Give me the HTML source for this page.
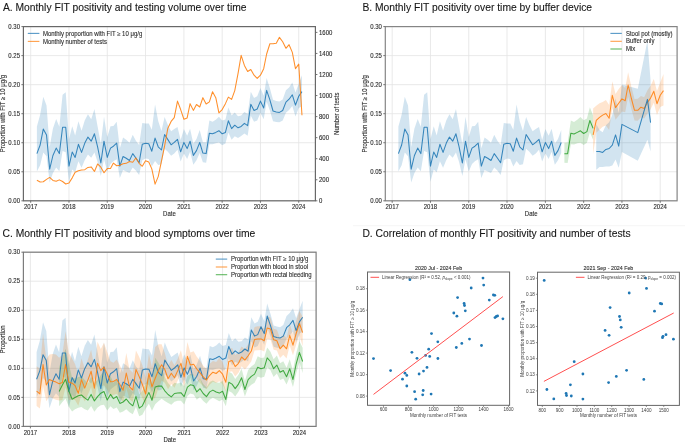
<!DOCTYPE html>
<html><head><meta charset="utf-8"><style>
html,body{margin:0;padding:0;background:#fff;width:685px;height:443px;overflow:hidden}
svg{display:block;will-change:transform}
text{font-family:"Liberation Sans", sans-serif;stroke:#3a3a3a;stroke-width:0.12px}
.ttl{stroke:#161616;stroke-width:0.1px;fill:#161616}
.dd{stroke:none;fill:#3c3c3c}
</style></head><body>
<svg width="685" height="443" viewBox="0 0 685 443" font-family='"Liberation Sans", sans-serif'>
<rect width="685" height="443" fill="#ffffff"/>
<line x1="353" y1="225.7" x2="685" y2="225.7" stroke="#f2f2f2" stroke-width="0.8"/>
<text x="2.9" y="10.7" font-size="10.3" text-anchor="start" fill="#2a2a2a" class="ttl">A. Monthly FIT positivity and testing volume over time</text>
<text x="362.4" y="10.7" font-size="10.3" text-anchor="start" fill="#2a2a2a" class="ttl">B. Monthly FIT positivity over time by buffer device</text>
<text x="2.5" y="237.4" font-size="10.3" text-anchor="start" fill="#2a2a2a" class="ttl">C. Monthly FIT positivity and blood symptoms over time</text>
<text x="362.4" y="237.4" font-size="10.3" text-anchor="start" fill="#2a2a2a" class="ttl">D. Correlation of monthly FIT positivity and number of tests</text>
<line x1="30.7" y1="26.6" x2="30.7" y2="200.8" stroke="#e3e3e3" stroke-width="0.8"/>
<line x1="68.97" y1="26.6" x2="68.97" y2="200.8" stroke="#e3e3e3" stroke-width="0.8"/>
<line x1="107.25" y1="26.6" x2="107.25" y2="200.8" stroke="#e3e3e3" stroke-width="0.8"/>
<line x1="145.52" y1="26.6" x2="145.52" y2="200.8" stroke="#e3e3e3" stroke-width="0.8"/>
<line x1="183.9" y1="26.6" x2="183.9" y2="200.8" stroke="#e3e3e3" stroke-width="0.8"/>
<line x1="222.17" y1="26.6" x2="222.17" y2="200.8" stroke="#e3e3e3" stroke-width="0.8"/>
<line x1="260.45" y1="26.6" x2="260.45" y2="200.8" stroke="#e3e3e3" stroke-width="0.8"/>
<line x1="298.72" y1="26.6" x2="298.72" y2="200.8" stroke="#e3e3e3" stroke-width="0.8"/>
<line x1="23.4" y1="200.8" x2="315.4" y2="200.8" stroke="#e3e3e3" stroke-width="0.8"/>
<line x1="23.4" y1="171.77" x2="315.4" y2="171.77" stroke="#e3e3e3" stroke-width="0.8"/>
<line x1="23.4" y1="142.73" x2="315.4" y2="142.73" stroke="#e3e3e3" stroke-width="0.8"/>
<line x1="23.4" y1="113.7" x2="315.4" y2="113.7" stroke="#e3e3e3" stroke-width="0.8"/>
<line x1="23.4" y1="84.66" x2="315.4" y2="84.66" stroke="#e3e3e3" stroke-width="0.8"/>
<line x1="23.4" y1="55.62" x2="315.4" y2="55.62" stroke="#e3e3e3" stroke-width="0.8"/>
<line x1="23.4" y1="26.59" x2="315.4" y2="26.59" stroke="#e3e3e3" stroke-width="0.8"/>
<polygon points="36.89,126.43 40.14,114.78 43.28,96.64 46.53,105.4 49.68,147.06 52.93,128.52 56.18,118.99 59.33,126.68 62.58,94.8 65.72,92.22 68.97,139.13 72.22,126.21 75.16,135.57 78.41,121.15 81.56,130.74 84.81,120.23 87.95,114.34 91.2,119.15 94.45,108.93 97.6,126.48 100.85,144.08 104,116.63 107.25,137.06 110.5,126.35 113.43,126.06 116.68,121.71 119.83,148.32 123.08,137.61 126.23,139.69 129.48,142.86 132.73,134.71 135.87,140.83 139.12,144.91 142.27,122.88 145.52,123.49 148.77,123.55 151.81,129.78 155.06,104.41 158.21,120.96 161.46,130.9 164.61,116.99 167.86,125 171.11,131.35 174.25,129.08 177.5,126.98 180.65,139.96 183.9,128.94 187.15,135.81 190.09,128.86 193.34,143.85 196.48,139 199.73,130.03 202.88,142.14 206.13,142.31 209.38,120.38 212.53,121.67 215.78,119.8 218.92,116.85 222.17,120.45 225.42,119.39 228.36,107.48 231.61,115.62 234.76,112.57 238.01,116.25 241.15,115.57 244.4,111.98 247.65,114.02 250.8,91.72 254.05,97.92 257.2,96.17 260.45,88.07 263.7,95.63 266.63,77.95 269.88,88.25 273.03,99.83 276.28,100.89 279.43,101.53 282.68,99.38 285.93,90.37 289.07,87.49 292.32,82.6 295.47,92.59 298.72,83.63 301.97,75.15 301.97,106.34 298.72,107.88 295.47,116.42 292.32,106 289.07,109.94 285.93,112.82 282.68,120.6 279.43,122.28 276.28,122.07 273.03,121.14 269.88,110.57 266.63,101.86 263.7,119.17 260.45,112.91 257.2,120.52 254.05,121.8 250.8,115.69 247.65,135.84 244.4,133.56 241.15,136.04 238.01,137.97 234.76,136.26 231.61,139.84 228.36,132.48 225.42,143.57 222.17,145.18 218.92,142.53 215.78,143.26 212.53,144.28 209.38,144.21 206.13,162.87 202.88,162.16 199.73,152.98 196.48,160.2 193.34,164.77 190.09,151.63 187.15,159.08 183.9,153.58 180.65,161.51 177.5,149.77 174.25,153.48 171.11,155.87 167.86,151.66 164.61,148.73 161.46,164.25 158.21,164.88 155.06,160.98 151.81,166.59 148.77,159.03 145.52,158.46 142.27,160.31 139.12,175.11 135.87,170.54 132.73,167.44 129.48,173.05 126.23,171.42 123.08,170.08 119.83,178.11 116.68,159.19 113.43,161.34 110.5,163.96 107.25,171.62 104,159.2 100.85,175.91 97.6,161.99 94.45,152.6 91.2,157.81 87.95,154.43 84.81,160.01 81.56,167.8 78.41,161.25 75.16,172.33 72.22,169.43 68.97,181.71 65.72,152.21 62.58,150.88 59.33,171.31 56.18,167.54 52.93,172.96 49.68,182.53 46.53,156.26 43.28,152.47 40.14,165.36 36.89,171.42" fill="#1f77b4" fill-opacity="0.2" stroke="none"/>
<polyline points="36.89,153.6 40.14,145 43.28,129.1 46.53,135 49.68,169.2 52.93,155.5 56.18,148.1 59.33,153.6 62.58,127.3 65.72,127.3 68.97,166.1 72.22,152 75.16,157.4 78.41,144.3 81.56,152.4 84.81,143.1 87.95,137.1 91.2,141.2 94.45,133.8 97.6,146.8 100.85,163 104,141.2 107.25,157.4 110.5,148.1 113.43,146.2 116.68,143.1 119.83,166.1 123.08,156.5 126.23,158.2 129.48,160.5 132.73,153.6 135.87,158 139.12,162.7 142.27,144.3 145.52,143.3 148.77,143.7 151.81,151.2 155.06,138.1 158.21,146.8 161.46,150 164.61,134.5 167.86,139.6 171.11,144.8 174.25,142.4 177.5,139.3 180.65,151.8 183.9,142.4 187.15,148.6 190.09,141.2 193.34,155.4 196.48,150.6 199.73,142.5 202.88,153.1 206.13,153.6 209.38,133.2 212.53,133.8 215.78,132.4 218.92,130.7 222.17,133.8 225.42,132.4 228.36,120.8 231.61,128.6 234.76,125.2 238.01,127.8 241.15,126.4 244.4,123.4 247.65,125.6 250.8,104.3 254.05,110.5 257.2,109 260.45,101.1 263.7,108 266.63,90.4 269.88,99.9 273.03,111 276.28,112 279.43,112.4 282.68,110.5 285.93,102.1 289.07,99.2 292.32,94.8 295.47,105.1 298.72,96.3 301.97,91.6" fill="none" stroke="#1f77b4" stroke-width="1.05" stroke-linejoin="round" stroke-opacity="0.88"/>
<polyline points="36.89,180.17 40.14,181.96 43.28,181.75 46.53,179.43 49.68,177.43 52.93,180.38 56.18,181.33 59.33,179.86 62.58,181.54 65.72,183.96 68.97,183.01 72.22,177.86 75.16,172.28 78.41,170.7 81.56,169.96 84.81,169.65 87.95,167.44 91.2,166.91 94.45,171.44 97.6,163.96 100.85,167.23 104,172.8 107.25,168.59 110.5,168.59 113.43,163.12 116.68,165.75 119.83,165.33 123.08,163.75 126.23,163.33 129.48,161.44 132.73,162.28 135.87,157.96 139.12,163.33 142.27,166.28 145.52,160.7 148.77,162.07 151.81,168.91 155.06,184.17 158.21,176.59 161.46,161.23 164.61,145.86 167.86,128.18 171.11,121.44 174.25,117.65 177.5,101.13 180.65,109.55 183.9,119.23 187.15,117.97 190.09,103.65 193.34,110.39 196.48,104.5 199.73,107.02 202.88,97.66 206.13,103.97 209.38,101.87 212.53,91.76 215.78,97.66 218.92,112.92 222.17,109.55 225.42,103.65 228.36,97.13 231.61,99.44 234.76,90.6 238.01,73.55 241.15,55.34 244.4,65.45 247.65,71.55 250.8,69.45 254.05,75.24 257.2,78.39 260.45,75.24 263.7,68.71 266.63,53.98 269.88,43.77 273.03,43.77 276.28,43.35 279.43,37.35 282.68,41.77 285.93,48.29 289.07,44.71 292.32,52.4 295.47,68.71 298.72,64.08 301.97,115.34" fill="none" stroke="#ff7f0e" stroke-width="1.05" stroke-linejoin="round" stroke-opacity="0.88"/>
<rect x="23.4" y="26.6" width="292" height="174.2" fill="none" stroke="#686868" stroke-width="1.2"/>
<line x1="30.7" y1="200.8" x2="30.7" y2="202.8" stroke="#666666" stroke-width="0.9"/>
<text x="30.7" y="209" font-size="6.3" text-anchor="middle" fill="#2a2a2a" textLength="13.35" lengthAdjust="spacingAndGlyphs">2017</text>
<line x1="68.97" y1="200.8" x2="68.97" y2="202.8" stroke="#666666" stroke-width="0.9"/>
<text x="68.97" y="209" font-size="6.3" text-anchor="middle" fill="#2a2a2a" textLength="13.35" lengthAdjust="spacingAndGlyphs">2018</text>
<line x1="107.25" y1="200.8" x2="107.25" y2="202.8" stroke="#666666" stroke-width="0.9"/>
<text x="107.25" y="209" font-size="6.3" text-anchor="middle" fill="#2a2a2a" textLength="13.35" lengthAdjust="spacingAndGlyphs">2019</text>
<line x1="145.52" y1="200.8" x2="145.52" y2="202.8" stroke="#666666" stroke-width="0.9"/>
<text x="145.52" y="209" font-size="6.3" text-anchor="middle" fill="#2a2a2a" textLength="13.35" lengthAdjust="spacingAndGlyphs">2020</text>
<line x1="183.9" y1="200.8" x2="183.9" y2="202.8" stroke="#666666" stroke-width="0.9"/>
<text x="183.9" y="209" font-size="6.3" text-anchor="middle" fill="#2a2a2a" textLength="13.35" lengthAdjust="spacingAndGlyphs">2021</text>
<line x1="222.17" y1="200.8" x2="222.17" y2="202.8" stroke="#666666" stroke-width="0.9"/>
<text x="222.17" y="209" font-size="6.3" text-anchor="middle" fill="#2a2a2a" textLength="13.35" lengthAdjust="spacingAndGlyphs">2022</text>
<line x1="260.45" y1="200.8" x2="260.45" y2="202.8" stroke="#666666" stroke-width="0.9"/>
<text x="260.45" y="209" font-size="6.3" text-anchor="middle" fill="#2a2a2a" textLength="13.35" lengthAdjust="spacingAndGlyphs">2023</text>
<line x1="298.72" y1="200.8" x2="298.72" y2="202.8" stroke="#666666" stroke-width="0.9"/>
<text x="298.72" y="209" font-size="6.3" text-anchor="middle" fill="#2a2a2a" textLength="13.35" lengthAdjust="spacingAndGlyphs">2024</text>
<line x1="21.4" y1="200.8" x2="23.4" y2="200.8" stroke="#666666" stroke-width="0.9"/>
<text x="20" y="202.95" font-size="6.3" text-anchor="end" fill="#2a2a2a" textLength="11.68" lengthAdjust="spacingAndGlyphs">0.00</text>
<line x1="21.4" y1="171.77" x2="23.4" y2="171.77" stroke="#666666" stroke-width="0.9"/>
<text x="20" y="173.92" font-size="6.3" text-anchor="end" fill="#2a2a2a" textLength="11.68" lengthAdjust="spacingAndGlyphs">0.05</text>
<line x1="21.4" y1="142.73" x2="23.4" y2="142.73" stroke="#666666" stroke-width="0.9"/>
<text x="20" y="144.88" font-size="6.3" text-anchor="end" fill="#2a2a2a" textLength="11.68" lengthAdjust="spacingAndGlyphs">0.10</text>
<line x1="21.4" y1="113.7" x2="23.4" y2="113.7" stroke="#666666" stroke-width="0.9"/>
<text x="20" y="115.85" font-size="6.3" text-anchor="end" fill="#2a2a2a" textLength="11.68" lengthAdjust="spacingAndGlyphs">0.15</text>
<line x1="21.4" y1="84.66" x2="23.4" y2="84.66" stroke="#666666" stroke-width="0.9"/>
<text x="20" y="86.81" font-size="6.3" text-anchor="end" fill="#2a2a2a" textLength="11.68" lengthAdjust="spacingAndGlyphs">0.20</text>
<line x1="21.4" y1="55.62" x2="23.4" y2="55.62" stroke="#666666" stroke-width="0.9"/>
<text x="20" y="57.77" font-size="6.3" text-anchor="end" fill="#2a2a2a" textLength="11.68" lengthAdjust="spacingAndGlyphs">0.25</text>
<line x1="21.4" y1="26.59" x2="23.4" y2="26.59" stroke="#666666" stroke-width="0.9"/>
<text x="20" y="28.74" font-size="6.3" text-anchor="end" fill="#2a2a2a" textLength="11.68" lengthAdjust="spacingAndGlyphs">0.30</text>
<text x="169.4" y="216.1" font-size="6.3" text-anchor="middle" fill="#2a2a2a" textLength="12.67" lengthAdjust="spacingAndGlyphs">Date</text>
<text x="5.5" y="113.7" font-size="6.3" textLength="77.34" lengthAdjust="spacingAndGlyphs" text-anchor="middle" fill="#2a2a2a" transform="rotate(-90 5.5 113.7)">Proportion with FIT ≥ 10 μg/g</text>
<line x1="315.4" y1="200.8" x2="317.4" y2="200.8" stroke="#666666" stroke-width="0.9"/>
<text x="319" y="202.95" font-size="6.3" text-anchor="start" fill="#2a2a2a" textLength="3.34" lengthAdjust="spacingAndGlyphs">0</text>
<line x1="315.4" y1="179.75" x2="317.4" y2="179.75" stroke="#666666" stroke-width="0.9"/>
<text x="319" y="181.9" font-size="6.3" text-anchor="start" fill="#2a2a2a" textLength="10.01" lengthAdjust="spacingAndGlyphs">200</text>
<line x1="315.4" y1="158.7" x2="317.4" y2="158.7" stroke="#666666" stroke-width="0.9"/>
<text x="319" y="160.85" font-size="6.3" text-anchor="start" fill="#2a2a2a" textLength="10.01" lengthAdjust="spacingAndGlyphs">400</text>
<line x1="315.4" y1="137.65" x2="317.4" y2="137.65" stroke="#666666" stroke-width="0.9"/>
<text x="319" y="139.8" font-size="6.3" text-anchor="start" fill="#2a2a2a" textLength="10.01" lengthAdjust="spacingAndGlyphs">600</text>
<line x1="315.4" y1="116.6" x2="317.4" y2="116.6" stroke="#666666" stroke-width="0.9"/>
<text x="319" y="118.75" font-size="6.3" text-anchor="start" fill="#2a2a2a" textLength="10.01" lengthAdjust="spacingAndGlyphs">800</text>
<line x1="315.4" y1="95.55" x2="317.4" y2="95.55" stroke="#666666" stroke-width="0.9"/>
<text x="319" y="97.7" font-size="6.3" text-anchor="start" fill="#2a2a2a" textLength="13.35" lengthAdjust="spacingAndGlyphs">1000</text>
<line x1="315.4" y1="74.5" x2="317.4" y2="74.5" stroke="#666666" stroke-width="0.9"/>
<text x="319" y="76.65" font-size="6.3" text-anchor="start" fill="#2a2a2a" textLength="13.35" lengthAdjust="spacingAndGlyphs">1200</text>
<line x1="315.4" y1="53.45" x2="317.4" y2="53.45" stroke="#666666" stroke-width="0.9"/>
<text x="319" y="55.6" font-size="6.3" text-anchor="start" fill="#2a2a2a" textLength="13.35" lengthAdjust="spacingAndGlyphs">1400</text>
<line x1="315.4" y1="32.4" x2="317.4" y2="32.4" stroke="#666666" stroke-width="0.9"/>
<text x="319" y="34.55" font-size="6.3" text-anchor="start" fill="#2a2a2a" textLength="13.35" lengthAdjust="spacingAndGlyphs">1600</text>
<text x="337.2" y="115.7" font-size="6.3" textLength="42.35" lengthAdjust="spacingAndGlyphs" text-anchor="middle" fill="#2a2a2a" transform="rotate(-90 337.2 113.7)">Number of tests</text>
<line x1="27.8" y1="33.4" x2="39.4" y2="33.4" stroke="#1f77b4" stroke-width="1.1" stroke-opacity="0.75"/>
<line x1="27.8" y1="41.4" x2="39.4" y2="41.4" stroke="#ff7f0e" stroke-width="1.1" stroke-opacity="0.75"/>
<text x="42.9" y="35.5" font-size="6.3" text-anchor="start" fill="#2a2a2a" textLength="99.35" lengthAdjust="spacingAndGlyphs">Monthly proportion with FIT ≥ 10 μg/g</text>
<text x="42.9" y="43.5" font-size="6.3" text-anchor="start" fill="#2a2a2a" textLength="64.03" lengthAdjust="spacingAndGlyphs">Monthly number of tests</text>
<line x1="392.2" y1="26.6" x2="392.2" y2="200.8" stroke="#e3e3e3" stroke-width="0.8"/>
<line x1="430.47" y1="26.6" x2="430.47" y2="200.8" stroke="#e3e3e3" stroke-width="0.8"/>
<line x1="468.75" y1="26.6" x2="468.75" y2="200.8" stroke="#e3e3e3" stroke-width="0.8"/>
<line x1="507.02" y1="26.6" x2="507.02" y2="200.8" stroke="#e3e3e3" stroke-width="0.8"/>
<line x1="545.4" y1="26.6" x2="545.4" y2="200.8" stroke="#e3e3e3" stroke-width="0.8"/>
<line x1="583.67" y1="26.6" x2="583.67" y2="200.8" stroke="#e3e3e3" stroke-width="0.8"/>
<line x1="621.95" y1="26.6" x2="621.95" y2="200.8" stroke="#e3e3e3" stroke-width="0.8"/>
<line x1="660.22" y1="26.6" x2="660.22" y2="200.8" stroke="#e3e3e3" stroke-width="0.8"/>
<line x1="385.3" y1="200.8" x2="677.1" y2="200.8" stroke="#e3e3e3" stroke-width="0.8"/>
<line x1="385.3" y1="171.77" x2="677.1" y2="171.77" stroke="#e3e3e3" stroke-width="0.8"/>
<line x1="385.3" y1="142.73" x2="677.1" y2="142.73" stroke="#e3e3e3" stroke-width="0.8"/>
<line x1="385.3" y1="113.7" x2="677.1" y2="113.7" stroke="#e3e3e3" stroke-width="0.8"/>
<line x1="385.3" y1="84.66" x2="677.1" y2="84.66" stroke="#e3e3e3" stroke-width="0.8"/>
<line x1="385.3" y1="55.62" x2="677.1" y2="55.62" stroke="#e3e3e3" stroke-width="0.8"/>
<line x1="385.3" y1="26.59" x2="677.1" y2="26.59" stroke="#e3e3e3" stroke-width="0.8"/>
<polygon points="398.39,126.43 401.64,114.78 404.78,96.64 408.03,105.4 411.18,147.06 414.43,128.52 417.68,118.99 420.83,126.68 424.08,94.8 427.22,92.22 430.47,139.13 433.72,126.21 436.66,135.57 439.91,121.15 443.06,130.74 446.31,120.23 449.45,114.34 452.7,119.15 455.95,108.93 459.1,126.48 462.35,144.08 465.5,116.63 468.75,137.06 472,126.35 474.93,126.06 478.18,121.71 481.33,148.32 484.58,137.61 487.73,139.69 490.98,142.86 494.23,134.71 497.37,140.83 500.62,144.91 503.77,122.88 507.02,123.49 510.27,123.55 513.31,129.78 516.56,104.41 519.71,120.96 522.96,130.9 526.11,116.99 529.36,125 532.61,131.35 535.75,129.08 539,126.98 542.15,139.96 545.4,128.94 548.65,135.81 551.59,128.86 554.84,143.85 557.98,139 561.23,130.03 561.23,152.98 557.98,160.2 554.84,164.77 551.59,151.63 548.65,159.08 545.4,153.58 542.15,161.51 539,149.77 535.75,153.48 532.61,155.87 529.36,151.66 526.11,148.73 522.96,164.25 519.71,164.88 516.56,160.98 513.31,166.59 510.27,159.03 507.02,158.46 503.77,160.31 500.62,175.11 497.37,170.54 494.23,167.44 490.98,173.05 487.73,171.42 484.58,170.08 481.33,178.11 478.18,159.19 474.93,161.34 472,163.96 468.75,171.62 465.5,159.2 462.35,175.91 459.1,161.99 455.95,152.6 452.7,157.81 449.45,154.43 446.31,160.01 443.06,167.8 439.91,161.25 436.66,172.33 433.72,169.43 430.47,181.71 427.22,152.21 424.08,150.88 420.83,171.31 417.68,167.54 414.43,172.96 411.18,182.53 408.03,156.26 404.78,152.47 401.64,165.36 398.39,171.42" fill="#1f77b4" fill-opacity="0.2" stroke="none"/>
<polygon points="564.38,142.8 567.63,142.42 570.88,120.38 574.03,121.88 577.28,119.8 580.42,116.96 583.67,120.13 586.92,118.54 589.86,107.16 593.11,115.41 593.11,139.66 589.86,132.2 586.92,142.83 583.67,144.9 580.42,142.63 577.28,143.26 574.03,144.47 570.88,144.21 567.63,162.96 564.38,162.7" fill="#2ca02c" fill-opacity="0.2" stroke="none"/>
<polygon points="593.11,108.48 596.26,105.84 599.51,103.29 602.65,101.91 605.9,100.11 609.15,104.89 612.3,81.22 615.55,94.01 618.7,89.11 621.95,84.95 625.2,88.09 628.13,72.35 631.38,86.8 634.53,99.1 637.78,98.68 640.93,96.1 644.18,97.19 647.43,90.35 650.57,85.81 653.82,78.96 656.97,91.12 660.22,82.58 663.47,74.1 663.47,105.4 660.22,106.93 656.97,115.1 653.82,102.66 650.57,109.33 647.43,113.38 644.18,118.61 640.93,117.33 637.78,120.82 634.53,120.47 631.38,109.24 628.13,96.69 625.2,112.34 621.95,111.49 618.7,115.84 615.55,119.75 612.3,108.06 609.15,129.93 605.9,125.39 602.65,126.8 599.51,129.77 596.26,132.87 593.11,154.33" fill="#ff7f0e" fill-opacity="0.2" stroke="none"/>
<polygon points="596.26,124.28 599.51,130 602.65,132.17 605.9,125.17 609.15,122.26 612.3,115.11 615.55,98.21 618.7,112.77 621.95,84.44 637.78,88.77 647.43,40.67 650.57,80.49 650.57,151.55 647.43,139.72 637.78,160.75 621.95,152.08 618.7,167.66 615.55,159.6 612.3,165.48 609.15,166.57 605.9,166.39 602.65,167.06 599.51,166.91 596.26,169.64" fill="#1f77b4" fill-opacity="0.2" stroke="none"/>
<polyline points="398.39,153.6 401.64,145 404.78,129.1 408.03,135 411.18,169.2 414.43,155.5 417.68,148.1 420.83,153.6 424.08,127.3 427.22,127.3 430.47,166.1 433.72,152 436.66,157.4 439.91,144.3 443.06,152.4 446.31,143.1 449.45,137.1 452.7,141.2 455.95,133.8 459.1,146.8 462.35,163 465.5,141.2 468.75,157.4 472,148.1 474.93,146.2 478.18,143.1 481.33,166.1 484.58,156.5 487.73,158.2 490.98,160.5 494.23,153.6 497.37,158 500.62,162.7 503.77,144.3 507.02,143.3 510.27,143.7 513.31,151.2 516.56,138.1 519.71,146.8 522.96,150 526.11,134.5 529.36,139.6 532.61,144.8 535.75,142.4 539,139.3 542.15,151.8 545.4,142.4 548.65,148.6 551.59,141.2 554.84,155.4 557.98,150.6 561.23,142.5" fill="none" stroke="#1f77b4" stroke-width="1.05" stroke-linejoin="round" stroke-opacity="0.88"/>
<polyline points="564.38,153.7 567.63,153.7 570.88,133.2 574.03,134 577.28,132.4 580.42,130.8 583.67,133.5 586.92,131.6 589.86,120.5 593.11,128.4" fill="none" stroke="#2ca02c" stroke-width="1.05" stroke-linejoin="round" stroke-opacity="0.88"/>
<polyline points="593.11,134.8 596.26,120.3 599.51,117.4 602.65,115.1 605.9,113.5 609.15,118.2 612.3,95.3 615.55,107.6 618.7,103.2 621.95,98.9 625.2,100.8 628.13,85 631.38,98.5 634.53,110.3 637.78,110.3 640.93,107.2 644.18,108.4 647.43,102.4 650.57,98.1 653.82,91.3 656.97,103.7 660.22,95.3 663.47,90.6" fill="none" stroke="#ff7f0e" stroke-width="1.05" stroke-linejoin="round" stroke-opacity="0.88"/>
<polyline points="596.26,151.5 599.51,151.5 602.65,152.4 605.9,149.4 609.15,148.5 612.3,145.2 615.55,134.9 618.7,146.1 621.95,124.4 637.78,132.6 647.43,99.4 650.57,122.6" fill="none" stroke="#1f77b4" stroke-width="1.05" stroke-linejoin="round" stroke-opacity="0.88"/>
<rect x="385.3" y="26.6" width="291.8" height="174.2" fill="none" stroke="#858585" stroke-width="1.2"/>
<line x1="392.2" y1="200.8" x2="392.2" y2="202.8" stroke="#666666" stroke-width="0.9"/>
<text x="392.2" y="209" font-size="6.3" text-anchor="middle" fill="#2a2a2a" textLength="13.35" lengthAdjust="spacingAndGlyphs">2017</text>
<line x1="430.47" y1="200.8" x2="430.47" y2="202.8" stroke="#666666" stroke-width="0.9"/>
<text x="430.47" y="209" font-size="6.3" text-anchor="middle" fill="#2a2a2a" textLength="13.35" lengthAdjust="spacingAndGlyphs">2018</text>
<line x1="468.75" y1="200.8" x2="468.75" y2="202.8" stroke="#666666" stroke-width="0.9"/>
<text x="468.75" y="209" font-size="6.3" text-anchor="middle" fill="#2a2a2a" textLength="13.35" lengthAdjust="spacingAndGlyphs">2019</text>
<line x1="507.02" y1="200.8" x2="507.02" y2="202.8" stroke="#666666" stroke-width="0.9"/>
<text x="507.02" y="209" font-size="6.3" text-anchor="middle" fill="#2a2a2a" textLength="13.35" lengthAdjust="spacingAndGlyphs">2020</text>
<line x1="545.4" y1="200.8" x2="545.4" y2="202.8" stroke="#666666" stroke-width="0.9"/>
<text x="545.4" y="209" font-size="6.3" text-anchor="middle" fill="#2a2a2a" textLength="13.35" lengthAdjust="spacingAndGlyphs">2021</text>
<line x1="583.67" y1="200.8" x2="583.67" y2="202.8" stroke="#666666" stroke-width="0.9"/>
<text x="583.67" y="209" font-size="6.3" text-anchor="middle" fill="#2a2a2a" textLength="13.35" lengthAdjust="spacingAndGlyphs">2022</text>
<line x1="621.95" y1="200.8" x2="621.95" y2="202.8" stroke="#666666" stroke-width="0.9"/>
<text x="621.95" y="209" font-size="6.3" text-anchor="middle" fill="#2a2a2a" textLength="13.35" lengthAdjust="spacingAndGlyphs">2023</text>
<line x1="660.22" y1="200.8" x2="660.22" y2="202.8" stroke="#666666" stroke-width="0.9"/>
<text x="660.22" y="209" font-size="6.3" text-anchor="middle" fill="#2a2a2a" textLength="13.35" lengthAdjust="spacingAndGlyphs">2024</text>
<line x1="383.3" y1="200.8" x2="385.3" y2="200.8" stroke="#666666" stroke-width="0.9"/>
<text x="381.9" y="202.95" font-size="6.3" text-anchor="end" fill="#2a2a2a" textLength="11.68" lengthAdjust="spacingAndGlyphs">0.00</text>
<line x1="383.3" y1="171.77" x2="385.3" y2="171.77" stroke="#666666" stroke-width="0.9"/>
<text x="381.9" y="173.92" font-size="6.3" text-anchor="end" fill="#2a2a2a" textLength="11.68" lengthAdjust="spacingAndGlyphs">0.05</text>
<line x1="383.3" y1="142.73" x2="385.3" y2="142.73" stroke="#666666" stroke-width="0.9"/>
<text x="381.9" y="144.88" font-size="6.3" text-anchor="end" fill="#2a2a2a" textLength="11.68" lengthAdjust="spacingAndGlyphs">0.10</text>
<line x1="383.3" y1="113.7" x2="385.3" y2="113.7" stroke="#666666" stroke-width="0.9"/>
<text x="381.9" y="115.85" font-size="6.3" text-anchor="end" fill="#2a2a2a" textLength="11.68" lengthAdjust="spacingAndGlyphs">0.15</text>
<line x1="383.3" y1="84.66" x2="385.3" y2="84.66" stroke="#666666" stroke-width="0.9"/>
<text x="381.9" y="86.81" font-size="6.3" text-anchor="end" fill="#2a2a2a" textLength="11.68" lengthAdjust="spacingAndGlyphs">0.20</text>
<line x1="383.3" y1="55.62" x2="385.3" y2="55.62" stroke="#666666" stroke-width="0.9"/>
<text x="381.9" y="57.77" font-size="6.3" text-anchor="end" fill="#2a2a2a" textLength="11.68" lengthAdjust="spacingAndGlyphs">0.25</text>
<line x1="383.3" y1="26.59" x2="385.3" y2="26.59" stroke="#666666" stroke-width="0.9"/>
<text x="381.9" y="28.74" font-size="6.3" text-anchor="end" fill="#2a2a2a" textLength="11.68" lengthAdjust="spacingAndGlyphs">0.30</text>
<text x="531.2" y="216.1" font-size="6.3" text-anchor="middle" fill="#2a2a2a" textLength="12.67" lengthAdjust="spacingAndGlyphs">Date</text>
<text x="367.4" y="113.7" font-size="6.3" textLength="77.34" lengthAdjust="spacingAndGlyphs" text-anchor="middle" fill="#2a2a2a" transform="rotate(-90 367.4 113.7)">Proportion with FIT ≥ 10 μg/g</text>
<line x1="610.4" y1="33.4" x2="621.8" y2="33.4" stroke="#1f77b4" stroke-width="1.1" stroke-opacity="0.75"/>
<text x="625.9" y="35.5" font-size="6.3" text-anchor="start" fill="#2a2a2a" textLength="46.68" lengthAdjust="spacingAndGlyphs">Stool pot (mostly)</text>
<line x1="610.4" y1="41.3" x2="621.8" y2="41.3" stroke="#ff7f0e" stroke-width="1.1" stroke-opacity="0.75"/>
<text x="625.9" y="43.4" font-size="6.3" text-anchor="start" fill="#2a2a2a" textLength="28.57" lengthAdjust="spacingAndGlyphs">Buffer only</text>
<line x1="610.4" y1="49.0" x2="621.8" y2="49.0" stroke="#2ca02c" stroke-width="1.1" stroke-opacity="0.75"/>
<text x="625.9" y="51.1" font-size="6.3" text-anchor="start" fill="#2a2a2a" textLength="9.33" lengthAdjust="spacingAndGlyphs">Mix</text>
<line x1="30.4" y1="252.2" x2="30.4" y2="426.4" stroke="#e3e3e3" stroke-width="0.8"/>
<line x1="68.81" y1="252.2" x2="68.81" y2="426.4" stroke="#e3e3e3" stroke-width="0.8"/>
<line x1="107.23" y1="252.2" x2="107.23" y2="426.4" stroke="#e3e3e3" stroke-width="0.8"/>
<line x1="145.64" y1="252.2" x2="145.64" y2="426.4" stroke="#e3e3e3" stroke-width="0.8"/>
<line x1="184.16" y1="252.2" x2="184.16" y2="426.4" stroke="#e3e3e3" stroke-width="0.8"/>
<line x1="222.57" y1="252.2" x2="222.57" y2="426.4" stroke="#e3e3e3" stroke-width="0.8"/>
<line x1="260.99" y1="252.2" x2="260.99" y2="426.4" stroke="#e3e3e3" stroke-width="0.8"/>
<line x1="299.4" y1="252.2" x2="299.4" y2="426.4" stroke="#e3e3e3" stroke-width="0.8"/>
<line x1="23.4" y1="426.4" x2="316.1" y2="426.4" stroke="#e3e3e3" stroke-width="0.8"/>
<line x1="23.4" y1="397.36" x2="316.1" y2="397.36" stroke="#e3e3e3" stroke-width="0.8"/>
<line x1="23.4" y1="368.33" x2="316.1" y2="368.33" stroke="#e3e3e3" stroke-width="0.8"/>
<line x1="23.4" y1="339.29" x2="316.1" y2="339.29" stroke="#e3e3e3" stroke-width="0.8"/>
<line x1="23.4" y1="310.26" x2="316.1" y2="310.26" stroke="#e3e3e3" stroke-width="0.8"/>
<line x1="23.4" y1="281.22" x2="316.1" y2="281.22" stroke="#e3e3e3" stroke-width="0.8"/>
<line x1="23.4" y1="252.19" x2="316.1" y2="252.19" stroke="#e3e3e3" stroke-width="0.8"/>
<polygon points="36.61,352.03 39.87,340.38 43.03,322.24 46.29,331 49.45,372.66 52.71,354.12 55.97,344.59 59.13,352.28 62.39,320.4 65.55,317.82 68.81,364.73 72.08,351.81 75.02,361.17 78.29,346.75 81.44,356.34 84.71,345.83 87.86,339.94 91.13,344.75 94.39,334.53 97.55,352.08 100.81,369.68 103.96,342.23 107.23,362.66 110.49,351.95 113.44,351.66 116.7,347.31 119.86,373.92 123.12,363.21 126.28,365.29 129.54,368.46 132.8,360.31 135.96,366.43 139.22,370.51 142.38,348.48 145.64,349.09 148.9,349.15 151.96,355.38 155.22,330.01 158.38,346.56 161.64,356.5 164.8,342.59 168.06,350.6 171.32,356.95 174.48,354.68 177.74,352.58 180.9,365.56 184.16,354.54 187.42,361.41 190.37,354.46 193.63,369.45 196.79,364.6 200.05,355.63 203.21,367.74 206.47,367.91 209.73,345.98 212.89,347.27 216.15,345.4 219.31,342.45 222.57,346.05 225.84,344.99 228.78,333.08 232.05,341.22 235.2,338.17 238.47,341.85 241.62,341.17 244.89,337.58 248.15,339.62 251.31,317.32 254.57,323.52 257.72,321.77 260.99,313.67 264.25,321.23 267.2,303.55 270.46,313.85 273.62,325.43 276.88,326.49 280.04,327.13 283.3,324.98 286.56,315.97 289.72,313.09 292.98,308.2 296.14,318.19 299.4,309.23 302.66,300.75 302.66,331.94 299.4,333.48 296.14,342.02 292.98,331.6 289.72,335.54 286.56,338.42 283.3,346.2 280.04,347.88 276.88,347.67 273.62,346.74 270.46,336.17 267.2,327.46 264.25,344.77 260.99,338.51 257.72,346.12 254.57,347.4 251.31,341.29 248.15,361.44 244.89,359.16 241.62,361.64 238.47,363.57 235.2,361.86 232.05,365.44 228.78,358.08 225.84,369.17 222.57,370.78 219.31,368.13 216.15,368.86 212.89,369.88 209.73,369.81 206.47,388.47 203.21,387.76 200.05,378.58 196.79,385.8 193.63,390.37 190.37,377.23 187.42,384.68 184.16,379.18 180.9,387.11 177.74,375.37 174.48,379.08 171.32,381.47 168.06,377.26 164.8,374.33 161.64,389.85 158.38,390.48 155.22,386.58 151.96,392.19 148.9,384.63 145.64,384.06 142.38,385.91 139.22,400.71 135.96,396.14 132.8,393.04 129.54,398.65 126.28,397.02 123.12,395.68 119.86,403.71 116.7,384.79 113.44,386.94 110.49,389.56 107.23,397.22 103.96,384.8 100.81,401.51 97.55,387.59 94.39,378.2 91.13,383.41 87.86,380.03 84.71,385.61 81.44,393.4 78.29,386.85 75.02,397.93 72.08,395.03 68.81,407.31 65.55,377.81 62.39,376.48 59.13,396.91 55.97,393.14 52.71,398.56 49.45,408.13 46.29,381.86 43.03,378.07 39.87,390.96 36.61,397.02" fill="#1f77b4" fill-opacity="0.2" stroke="none"/>
<polygon points="36.61,366.34 39.87,368.39 43.03,333.6 46.29,359.37 49.45,354.43 52.71,354.01 55.97,354.55 59.13,357.75 62.39,354.85 65.55,331.3 68.81,353.01 72.08,358.42 75.02,364.1 78.29,374.02 81.44,358.19 84.71,368.24 87.86,359.72 91.13,349.84 94.39,367.65 97.55,341.84 100.81,348.93 103.96,342.69 107.23,352.29 110.49,361.27 113.44,362.7 116.7,359.48 119.86,365.62 123.12,372.61 126.28,352.95 129.54,369.39 132.8,372.78 135.96,350.48 139.22,357.04 142.38,365.2 145.64,377.86 148.9,353.77 151.96,367.1 155.22,347.11 158.38,344.13 161.64,344.35 164.8,352.94 168.06,365.42 171.32,360.01 174.48,365.27 177.74,358.73 180.9,350.36 184.16,364.26 187.42,342 190.37,352.52 193.63,351.16 196.79,356.78 200.05,360.83 203.21,365.78 206.47,368.78 209.73,363.79 212.89,361.02 216.15,362.09 219.31,357.89 222.57,362.07 225.84,371.32 228.78,349.19 232.05,348.07 235.2,355.05 238.47,352.38 241.62,346.45 244.89,349.33 248.15,344.49 251.31,339.51 254.57,326.99 257.72,326.29 260.99,326.46 264.25,328.68 267.2,316.15 270.46,317.5 273.62,328.78 276.88,329.74 280.04,338.45 283.3,334.51 286.56,338.06 289.72,324.04 292.98,334.12 296.14,321.12 299.4,310.89 302.66,316.98 302.66,346.37 299.4,335 296.14,344.67 292.98,355.14 289.72,345.53 286.56,358.41 283.3,354.83 280.04,358.1 276.88,350.61 273.62,349.77 270.46,339.51 267.2,339 264.25,351.47 260.99,350.04 257.72,350.17 254.57,350.51 251.31,361.17 248.15,365.73 244.89,369.53 241.62,366.32 238.47,372.78 235.2,376.46 232.05,371.34 228.78,372.06 225.84,391.24 222.57,384.23 219.31,381.16 216.15,383.06 212.89,381.63 209.73,384.87 206.47,389.19 203.21,386.14 200.05,382.93 196.79,379.27 193.63,375.21 190.37,375.59 187.42,368.46 184.16,387.16 180.9,374.43 177.74,380.57 174.48,387.79 171.32,383.99 168.06,389.3 164.8,382.65 161.64,380.62 158.38,388.77 155.22,397.8 151.96,400.42 148.9,388.12 145.64,404.99 142.38,398.04 139.22,391.03 135.96,384.15 132.8,401.95 129.54,399.31 126.28,387.99 123.12,402.3 119.86,397.98 116.7,393.76 113.44,395.09 110.49,396.24 107.23,389.81 103.96,385.13 100.81,386.69 97.55,379.82 94.39,401.9 91.13,387.21 87.86,394.64 84.71,401.5 81.44,394.7 78.29,405.76 75.02,399.92 72.08,399.42 68.81,400.25 65.55,387.18 62.39,400.02 59.13,400.47 55.97,399.64 52.71,398.48 49.45,396.49 46.29,401.18 43.03,386.1 39.87,408.57 36.61,406.05" fill="#ff7f0e" fill-opacity="0.2" stroke="none"/>
<polygon points="59.13,367.06 62.39,357.97 65.55,348.66 68.81,363.74 72.08,377.87 75.02,378.48 78.29,377.03 81.44,376.34 84.71,379.95 87.86,383.47 91.13,376.65 94.39,382.98 97.55,380.12 100.81,375.12 103.96,371 107.23,382.87 110.49,376.1 113.44,382.74 116.7,379.51 119.86,387.99 123.12,386.69 126.28,383.16 129.54,388.58 132.8,391.7 135.96,381.3 139.22,394.44 142.38,390.71 145.64,383.44 148.9,375.64 151.96,383.13 155.22,357.65 158.38,362.64 161.64,368.52 164.8,376.89 168.06,383.12 171.32,386.4 174.48,382.83 177.74,383.42 180.9,382.48 184.16,386.22 187.42,375.64 190.37,374.07 193.63,374.52 196.79,381.89 200.05,378.18 203.21,384.05 206.47,387.18 209.73,382.04 212.89,380.57 216.15,382.38 219.31,382.71 222.57,380.91 225.84,390.47 228.78,371.71 232.05,373.55 235.2,378.97 238.47,374.78 241.62,368.64 244.89,380.98 248.15,369.98 251.31,366.61 254.57,363.89 257.72,356.33 260.99,358.08 264.25,357.4 267.2,347.46 270.46,351.63 273.62,359.28 276.88,355.46 280.04,363.31 283.3,361.26 286.56,367.79 289.72,359.25 292.98,370.56 296.14,353.56 299.4,341.23 302.66,347.84 302.66,373.04 299.4,362.3 296.14,373.45 292.98,387.11 289.72,376.95 286.56,384.53 283.3,378.55 280.04,380.12 276.88,373.56 273.62,376.93 270.46,370.21 267.2,367.13 264.25,376.78 260.99,377.82 257.72,376.55 254.57,382.79 251.31,384.72 248.15,387.7 244.89,396.51 241.62,385.62 238.47,391.84 235.2,396.39 232.05,392.68 228.78,390.98 225.84,406.34 222.57,399.43 219.31,401.14 216.15,399.62 212.89,397.76 209.73,399.68 206.47,403.85 203.21,400.94 200.05,397.05 196.79,399.77 193.63,394.45 190.37,393.47 187.42,396.12 184.16,404.4 180.9,400.66 177.74,400.71 174.48,401.68 171.32,404.75 168.06,403.02 164.8,400.99 161.64,398.63 158.38,401.35 155.22,404.25 151.96,410.85 148.9,403.86 145.64,408.72 142.38,414.65 139.22,416.15 135.96,406.63 132.8,414.3 129.54,412.19 126.28,409.22 123.12,411.57 119.86,412.78 116.7,407.55 113.44,408.89 110.49,406.3 107.23,410.59 103.96,404.73 100.81,405.16 97.55,407.42 94.39,411.63 91.13,406.06 87.86,410.6 84.71,409.14 81.44,406.96 78.29,407.69 75.02,409.22 72.08,411.42 68.81,406.74 65.55,398.53 62.39,401.99 59.13,406.26" fill="#2ca02c" fill-opacity="0.2" stroke="none"/>
<polyline points="36.61,379.2 39.87,370.6 43.03,354.7 46.29,360.6 49.45,394.8 52.71,381.1 55.97,373.7 59.13,379.2 62.39,352.9 65.55,352.9 68.81,391.7 72.08,377.6 75.02,383 78.29,369.9 81.44,378 84.71,368.7 87.86,362.7 91.13,366.8 94.39,359.4 97.55,372.4 100.81,388.6 103.96,366.8 107.23,383 110.49,373.7 113.44,371.8 116.7,368.7 119.86,391.7 123.12,382.1 126.28,383.8 129.54,386.1 132.8,379.2 135.96,383.6 139.22,388.3 142.38,369.9 145.64,368.9 148.9,369.3 151.96,376.8 155.22,363.7 158.38,372.4 161.64,375.6 164.8,360.1 168.06,365.2 171.32,370.4 174.48,368 177.74,364.9 180.9,377.4 184.16,368 187.42,374.2 190.37,366.8 193.63,381 196.79,376.2 200.05,368.1 203.21,378.7 206.47,379.2 209.73,358.8 212.89,359.4 216.15,358 219.31,356.3 222.57,359.4 225.84,358 228.78,346.4 232.05,354.2 235.2,350.8 238.47,353.4 241.62,352 244.89,349 248.15,351.2 251.31,329.9 254.57,336.1 257.72,334.6 260.99,326.7 264.25,333.6 267.2,316 270.46,325.5 273.62,336.6 276.88,337.6 280.04,338 283.3,336.1 286.56,327.7 289.72,324.8 292.98,320.4 296.14,330.7 299.4,321.9 302.66,317.2" fill="none" stroke="#1f77b4" stroke-width="1.05" stroke-linejoin="round" stroke-opacity="0.88"/>
<polyline points="36.61,391.1 39.87,393.9 43.03,364.6 46.29,384.9 49.45,379.6 52.71,381 55.97,382.1 59.13,383.8 62.39,382.5 65.55,364.6 68.81,382.1 72.08,383.2 75.02,385.5 78.29,393.3 81.44,379.6 84.71,388.1 87.86,380.1 91.13,371.3 94.39,388.2 97.55,363.3 100.81,370.6 103.96,367.2 107.23,374 110.49,381.8 113.44,381.5 116.7,379.4 119.86,384.6 123.12,390.2 126.28,373 129.54,386.9 132.8,390 135.96,369.5 139.22,376.6 142.38,384.5 145.64,394 148.9,373.4 151.96,386.9 155.22,378.2 158.38,370.3 161.64,364.8 164.8,369.5 168.06,378.7 171.32,373.2 174.48,377.7 177.74,370.6 180.9,363.4 184.16,376.9 187.42,356.3 190.37,365 193.63,364.2 196.79,369 200.05,372.9 203.21,376.9 206.47,380 209.73,375.3 212.89,372.2 216.15,373.5 219.31,370.6 222.57,374.2 225.84,382.3 228.78,361.5 232.05,360.6 235.2,366.6 238.47,363.3 241.62,357 244.89,360.1 248.15,355.8 251.31,351 254.57,339.4 257.72,338.9 260.99,338.9 264.25,340.7 267.2,328.1 270.46,329 273.62,339.8 276.88,340.7 280.04,348.8 283.3,345.2 286.56,348.8 289.72,335.3 292.98,345.2 296.14,333.5 299.4,323.5 302.66,332.6" fill="none" stroke="#ff7f0e" stroke-width="1.05" stroke-linejoin="round" stroke-opacity="0.88"/>
<polyline points="59.13,391.5 62.39,385.1 65.55,379.3 68.81,390.9 72.08,399.2 75.02,397.5 78.29,395.8 81.44,395 84.71,397.9 87.86,400.2 91.13,394.4 94.39,400.9 97.55,396.6 100.81,393.2 103.96,391.5 107.23,400 110.49,394.4 113.44,398.6 116.7,396.5 119.86,403.4 123.12,402 126.28,399 129.54,403.1 132.8,405.8 135.96,396.4 139.22,408.2 142.38,405.8 145.64,398.7 148.9,392.4 151.96,400.3 155.22,386.9 158.38,386.1 161.64,386.1 164.8,390.8 168.06,394.5 171.32,396.9 174.48,393.5 177.74,393.1 180.9,392.7 184.16,396.6 187.42,387.1 190.37,384.8 193.63,385.6 196.79,391.9 200.05,388.7 203.21,393.5 206.47,396.6 209.73,391.9 212.89,390.1 216.15,392 219.31,393.1 222.57,391.3 225.84,399.5 228.78,382.3 232.05,384.1 235.2,388.6 238.47,384.1 241.62,377.8 244.89,389.5 248.15,379.6 251.31,376.4 254.57,374.1 257.72,367.2 260.99,368.7 264.25,367.8 267.2,357.9 270.46,361.5 273.62,368.7 276.88,365.1 280.04,372.3 283.3,370.5 286.56,376.8 289.72,368.7 292.98,379.5 296.14,364.2 299.4,352.4 302.66,361.5" fill="none" stroke="#2ca02c" stroke-width="1.05" stroke-linejoin="round" stroke-opacity="0.88"/>
<rect x="23.4" y="252.2" width="292.7" height="174.2" fill="none" stroke="#7c7c7c" stroke-width="1.2"/>
<line x1="30.4" y1="426.4" x2="30.4" y2="428.4" stroke="#666666" stroke-width="0.9"/>
<text x="30.4" y="434.6" font-size="6.3" text-anchor="middle" fill="#2a2a2a" textLength="13.35" lengthAdjust="spacingAndGlyphs">2017</text>
<line x1="68.81" y1="426.4" x2="68.81" y2="428.4" stroke="#666666" stroke-width="0.9"/>
<text x="68.81" y="434.6" font-size="6.3" text-anchor="middle" fill="#2a2a2a" textLength="13.35" lengthAdjust="spacingAndGlyphs">2018</text>
<line x1="107.23" y1="426.4" x2="107.23" y2="428.4" stroke="#666666" stroke-width="0.9"/>
<text x="107.23" y="434.6" font-size="6.3" text-anchor="middle" fill="#2a2a2a" textLength="13.35" lengthAdjust="spacingAndGlyphs">2019</text>
<line x1="145.64" y1="426.4" x2="145.64" y2="428.4" stroke="#666666" stroke-width="0.9"/>
<text x="145.64" y="434.6" font-size="6.3" text-anchor="middle" fill="#2a2a2a" textLength="13.35" lengthAdjust="spacingAndGlyphs">2020</text>
<line x1="184.16" y1="426.4" x2="184.16" y2="428.4" stroke="#666666" stroke-width="0.9"/>
<text x="184.16" y="434.6" font-size="6.3" text-anchor="middle" fill="#2a2a2a" textLength="13.35" lengthAdjust="spacingAndGlyphs">2021</text>
<line x1="222.57" y1="426.4" x2="222.57" y2="428.4" stroke="#666666" stroke-width="0.9"/>
<text x="222.57" y="434.6" font-size="6.3" text-anchor="middle" fill="#2a2a2a" textLength="13.35" lengthAdjust="spacingAndGlyphs">2022</text>
<line x1="260.99" y1="426.4" x2="260.99" y2="428.4" stroke="#666666" stroke-width="0.9"/>
<text x="260.99" y="434.6" font-size="6.3" text-anchor="middle" fill="#2a2a2a" textLength="13.35" lengthAdjust="spacingAndGlyphs">2023</text>
<line x1="299.4" y1="426.4" x2="299.4" y2="428.4" stroke="#666666" stroke-width="0.9"/>
<text x="299.4" y="434.6" font-size="6.3" text-anchor="middle" fill="#2a2a2a" textLength="13.35" lengthAdjust="spacingAndGlyphs">2024</text>
<line x1="21.4" y1="426.4" x2="23.4" y2="426.4" stroke="#666666" stroke-width="0.9"/>
<text x="20" y="428.55" font-size="6.3" text-anchor="end" fill="#2a2a2a" textLength="11.68" lengthAdjust="spacingAndGlyphs">0.00</text>
<line x1="21.4" y1="397.36" x2="23.4" y2="397.36" stroke="#666666" stroke-width="0.9"/>
<text x="20" y="399.51" font-size="6.3" text-anchor="end" fill="#2a2a2a" textLength="11.68" lengthAdjust="spacingAndGlyphs">0.05</text>
<line x1="21.4" y1="368.33" x2="23.4" y2="368.33" stroke="#666666" stroke-width="0.9"/>
<text x="20" y="370.48" font-size="6.3" text-anchor="end" fill="#2a2a2a" textLength="11.68" lengthAdjust="spacingAndGlyphs">0.10</text>
<line x1="21.4" y1="339.29" x2="23.4" y2="339.29" stroke="#666666" stroke-width="0.9"/>
<text x="20" y="341.44" font-size="6.3" text-anchor="end" fill="#2a2a2a" textLength="11.68" lengthAdjust="spacingAndGlyphs">0.15</text>
<line x1="21.4" y1="310.26" x2="23.4" y2="310.26" stroke="#666666" stroke-width="0.9"/>
<text x="20" y="312.41" font-size="6.3" text-anchor="end" fill="#2a2a2a" textLength="11.68" lengthAdjust="spacingAndGlyphs">0.20</text>
<line x1="21.4" y1="281.22" x2="23.4" y2="281.22" stroke="#666666" stroke-width="0.9"/>
<text x="20" y="283.37" font-size="6.3" text-anchor="end" fill="#2a2a2a" textLength="11.68" lengthAdjust="spacingAndGlyphs">0.25</text>
<line x1="21.4" y1="252.19" x2="23.4" y2="252.19" stroke="#666666" stroke-width="0.9"/>
<text x="20" y="254.34" font-size="6.3" text-anchor="end" fill="#2a2a2a" textLength="11.68" lengthAdjust="spacingAndGlyphs">0.30</text>
<text x="169.75" y="441.7" font-size="6.3" text-anchor="middle" fill="#2a2a2a" textLength="12.67" lengthAdjust="spacingAndGlyphs">Date</text>
<text x="5.5" y="339.3" font-size="6.3" textLength="27.68" lengthAdjust="spacingAndGlyphs" text-anchor="middle" fill="#2a2a2a" transform="rotate(-90 5.5 339.3)">Proportion</text>
<line x1="215.8" y1="259.1" x2="227.2" y2="259.1" stroke="#1f77b4" stroke-width="1.1" stroke-opacity="0.75"/>
<text x="231" y="261.2" font-size="6.3" text-anchor="start" fill="#2a2a2a" textLength="77.34" lengthAdjust="spacingAndGlyphs">Proportion with FIT ≥ 10 μg/g</text>
<line x1="215.8" y1="267.0" x2="227.2" y2="267.0" stroke="#ff7f0e" stroke-width="1.1" stroke-opacity="0.75"/>
<text x="231" y="269.1" font-size="6.3" text-anchor="start" fill="#2a2a2a" textLength="77.05" lengthAdjust="spacingAndGlyphs">Proportion with blood in stool</text>
<line x1="215.8" y1="274.7" x2="227.2" y2="274.7" stroke="#2ca02c" stroke-width="1.1" stroke-opacity="0.75"/>
<text x="231" y="276.8" font-size="6.3" text-anchor="start" fill="#2a2a2a" textLength="80.71" lengthAdjust="spacingAndGlyphs">Proportion with rectal bleeding</text>
<circle cx="373.5" cy="358.6" r="1.4" fill="#1f77b4"/>
<circle cx="390.6" cy="370.6" r="1.4" fill="#1f77b4"/>
<circle cx="402.5" cy="379.2" r="1.4" fill="#1f77b4"/>
<circle cx="405" cy="373.2" r="1.4" fill="#1f77b4"/>
<circle cx="406.8" cy="375.4" r="1.4" fill="#1f77b4"/>
<circle cx="406.8" cy="386" r="1.4" fill="#1f77b4"/>
<circle cx="409.9" cy="279.7" r="1.4" fill="#1f77b4"/>
<circle cx="411.9" cy="352.3" r="1.4" fill="#1f77b4"/>
<circle cx="414.6" cy="391.7" r="1.4" fill="#1f77b4"/>
<circle cx="415.7" cy="399.2" r="1.4" fill="#1f77b4"/>
<circle cx="417" cy="358.3" r="1.4" fill="#1f77b4"/>
<circle cx="419.1" cy="374" r="1.4" fill="#1f77b4"/>
<circle cx="422.7" cy="394.8" r="1.4" fill="#1f77b4"/>
<circle cx="423.2" cy="390.5" r="1.4" fill="#1f77b4"/>
<circle cx="423.5" cy="371.1" r="1.4" fill="#1f77b4"/>
<circle cx="425.6" cy="355.4" r="1.4" fill="#1f77b4"/>
<circle cx="427" cy="367.4" r="1.4" fill="#1f77b4"/>
<circle cx="428.7" cy="349.2" r="1.4" fill="#1f77b4"/>
<circle cx="429.7" cy="356.4" r="1.4" fill="#1f77b4"/>
<circle cx="431.1" cy="394.1" r="1.4" fill="#1f77b4"/>
<circle cx="431.5" cy="333.6" r="1.4" fill="#1f77b4"/>
<circle cx="437.8" cy="341.8" r="1.4" fill="#1f77b4"/>
<circle cx="437.9" cy="358.5" r="1.4" fill="#1f77b4"/>
<circle cx="453.8" cy="313" r="1.4" fill="#1f77b4"/>
<circle cx="456.3" cy="347.5" r="1.4" fill="#1f77b4"/>
<circle cx="456.9" cy="316.2" r="1.4" fill="#1f77b4"/>
<circle cx="457.6" cy="297.6" r="1.4" fill="#1f77b4"/>
<circle cx="461.8" cy="343.4" r="1.4" fill="#1f77b4"/>
<circle cx="464.1" cy="303.5" r="1.4" fill="#1f77b4"/>
<circle cx="464.5" cy="305.5" r="1.4" fill="#1f77b4"/>
<circle cx="465.3" cy="310.8" r="1.4" fill="#1f77b4"/>
<circle cx="469.5" cy="339.1" r="1.4" fill="#1f77b4"/>
<circle cx="471.2" cy="288" r="1.4" fill="#1f77b4"/>
<circle cx="481.5" cy="345.5" r="1.4" fill="#1f77b4"/>
<circle cx="483" cy="278.1" r="1.4" fill="#1f77b4"/>
<circle cx="483.7" cy="285.1" r="1.4" fill="#1f77b4"/>
<circle cx="489.3" cy="300.1" r="1.4" fill="#1f77b4"/>
<circle cx="493.4" cy="295" r="1.4" fill="#1f77b4"/>
<circle cx="494.8" cy="295.3" r="1.4" fill="#1f77b4"/>
<circle cx="495" cy="317.6" r="1.4" fill="#1f77b4"/>
<circle cx="496.3" cy="316.5" r="1.4" fill="#1f77b4"/>
<circle cx="497.6" cy="315.9" r="1.4" fill="#1f77b4"/>
<circle cx="502.9" cy="318.8" r="1.4" fill="#1f77b4"/>
<line x1="373.5" y1="394.4" x2="502.9" y2="296.6" stroke="#ff5050" stroke-width="1.0"/>
<rect x="367.5" y="272.0" width="142.1" height="133.3" fill="none" stroke="#666666" stroke-width="1"/>
<line x1="383.5" y1="405.3" x2="383.5" y2="406.90000000000003" stroke="#666666" stroke-width="0.7"/>
<text x="383.5" y="411.4" font-size="4.6" text-anchor="middle" fill="#2a2a2a" class="dd">600</text>
<line x1="408.5" y1="405.3" x2="408.5" y2="406.90000000000003" stroke="#666666" stroke-width="0.7"/>
<text x="408.5" y="411.4" font-size="4.6" text-anchor="middle" fill="#2a2a2a" class="dd">800</text>
<line x1="433.5" y1="405.3" x2="433.5" y2="406.90000000000003" stroke="#666666" stroke-width="0.7"/>
<text x="433.5" y="411.4" font-size="4.6" text-anchor="middle" fill="#2a2a2a" class="dd">1000</text>
<line x1="458.5" y1="405.3" x2="458.5" y2="406.90000000000003" stroke="#666666" stroke-width="0.7"/>
<text x="458.5" y="411.4" font-size="4.6" text-anchor="middle" fill="#2a2a2a" class="dd">1200</text>
<line x1="483.5" y1="405.3" x2="483.5" y2="406.90000000000003" stroke="#666666" stroke-width="0.7"/>
<text x="483.5" y="411.4" font-size="4.6" text-anchor="middle" fill="#2a2a2a" class="dd">1400</text>
<line x1="508.5" y1="405.3" x2="508.5" y2="406.90000000000003" stroke="#666666" stroke-width="0.7"/>
<text x="508.5" y="411.4" font-size="4.6" text-anchor="middle" fill="#2a2a2a" class="dd">1600</text>
<line x1="365.9" y1="396.1" x2="367.5" y2="396.1" stroke="#666666" stroke-width="0.7"/>
<text x="364.9" y="397.75" font-size="4.6" text-anchor="end" fill="#2a2a2a" class="dd">0.08</text>
<line x1="365.9" y1="374.62" x2="367.5" y2="374.62" stroke="#666666" stroke-width="0.7"/>
<text x="364.9" y="376.27" font-size="4.6" text-anchor="end" fill="#2a2a2a" class="dd">0.10</text>
<line x1="365.9" y1="353.14" x2="367.5" y2="353.14" stroke="#666666" stroke-width="0.7"/>
<text x="364.9" y="354.79" font-size="4.6" text-anchor="end" fill="#2a2a2a" class="dd">0.12</text>
<line x1="365.9" y1="331.66" x2="367.5" y2="331.66" stroke="#666666" stroke-width="0.7"/>
<text x="364.9" y="333.31" font-size="4.6" text-anchor="end" fill="#2a2a2a" class="dd">0.14</text>
<line x1="365.9" y1="310.18" x2="367.5" y2="310.18" stroke="#666666" stroke-width="0.7"/>
<text x="364.9" y="311.83" font-size="4.6" text-anchor="end" fill="#2a2a2a" class="dd">0.16</text>
<line x1="365.9" y1="288.7" x2="367.5" y2="288.7" stroke="#666666" stroke-width="0.7"/>
<text x="364.9" y="290.35" font-size="4.6" text-anchor="end" fill="#2a2a2a" class="dd">0.18</text>
<text x="438.55" y="416.9" font-size="4.6" text-anchor="middle" fill="#2a2a2a" class="dd">Monthly number of FIT tests</text>
<text class="dd" x="353.9" y="338.65" font-size="4.6" text-anchor="middle" fill="#2a2a2a" transform="rotate(-90 353.9 338.65)">Monthly proportion with FIT ≥ 10 μg/g</text>
<text x="438.55" y="269.6" font-size="5.3" text-anchor="middle" fill="#2a2a2a">2020 Jul - 2024 Feb</text>
<line x1="370.5" y1="277.3" x2="379.1" y2="277.3" stroke="#ff5050" stroke-width="1.0"/>
<text class="dd" x="382.1" y="278.9" font-size="4.5" fill="#2a2a2a">Linear Regression (R² = 0.52, <tspan font-style="italic">p</tspan><tspan font-size="3.2" dy="0.8">slope</tspan><tspan dy="-0.8"> &lt; 0.001)</tspan></text>
<circle cx="544.2" cy="280.4" r="1.4" fill="#1f77b4"/>
<circle cx="546.9" cy="389.5" r="1.4" fill="#1f77b4"/>
<circle cx="553.8" cy="398.9" r="1.4" fill="#1f77b4"/>
<circle cx="566.1" cy="393.4" r="1.4" fill="#1f77b4"/>
<circle cx="566.5" cy="395.5" r="1.4" fill="#1f77b4"/>
<circle cx="570.4" cy="384.8" r="1.4" fill="#1f77b4"/>
<circle cx="571.3" cy="396" r="1.4" fill="#1f77b4"/>
<circle cx="574.2" cy="361.7" r="1.4" fill="#1f77b4"/>
<circle cx="582.9" cy="374" r="1.4" fill="#1f77b4"/>
<circle cx="582.9" cy="399.1" r="1.4" fill="#1f77b4"/>
<circle cx="605.1" cy="330.4" r="1.4" fill="#1f77b4"/>
<circle cx="608.6" cy="382.6" r="1.4" fill="#1f77b4"/>
<circle cx="609.1" cy="335.3" r="1.4" fill="#1f77b4"/>
<circle cx="610.1" cy="307.6" r="1.4" fill="#1f77b4"/>
<circle cx="616.3" cy="376.4" r="1.4" fill="#1f77b4"/>
<circle cx="619.5" cy="316.5" r="1.4" fill="#1f77b4"/>
<circle cx="620.3" cy="319.9" r="1.4" fill="#1f77b4"/>
<circle cx="621.2" cy="327.3" r="1.4" fill="#1f77b4"/>
<circle cx="626.6" cy="370.3" r="1.4" fill="#1f77b4"/>
<circle cx="629.2" cy="293" r="1.4" fill="#1f77b4"/>
<circle cx="643.8" cy="379.4" r="1.4" fill="#1f77b4"/>
<circle cx="645.6" cy="278.1" r="1.4" fill="#1f77b4"/>
<circle cx="646.5" cy="288.4" r="1.4" fill="#1f77b4"/>
<circle cx="654.5" cy="311.2" r="1.4" fill="#1f77b4"/>
<circle cx="660.3" cy="303.5" r="1.4" fill="#1f77b4"/>
<circle cx="661.7" cy="303.9" r="1.4" fill="#1f77b4"/>
<circle cx="662.5" cy="337.7" r="1.4" fill="#1f77b4"/>
<circle cx="663" cy="336.3" r="1.4" fill="#1f77b4"/>
<circle cx="666" cy="334.7" r="1.4" fill="#1f77b4"/>
<circle cx="673.4" cy="339.2" r="1.4" fill="#1f77b4"/>
<line x1="543.9" y1="381.4" x2="673.7" y2="313" stroke="#ff5050" stroke-width="1.0"/>
<rect x="537.5" y="272.2" width="141.9" height="133.2" fill="none" stroke="#666666" stroke-width="1"/>
<line x1="542.3" y1="405.4" x2="542.3" y2="407.0" stroke="#666666" stroke-width="0.7"/>
<text x="542.3" y="411.5" font-size="4.6" text-anchor="middle" fill="#2a2a2a" class="dd">800</text>
<line x1="559.65" y1="405.4" x2="559.65" y2="407.0" stroke="#666666" stroke-width="0.7"/>
<text x="559.65" y="411.5" font-size="4.6" text-anchor="middle" fill="#2a2a2a" class="dd">900</text>
<line x1="577" y1="405.4" x2="577" y2="407.0" stroke="#666666" stroke-width="0.7"/>
<text x="577" y="411.5" font-size="4.6" text-anchor="middle" fill="#2a2a2a" class="dd">1000</text>
<line x1="594.35" y1="405.4" x2="594.35" y2="407.0" stroke="#666666" stroke-width="0.7"/>
<text x="594.35" y="411.5" font-size="4.6" text-anchor="middle" fill="#2a2a2a" class="dd">1100</text>
<line x1="611.7" y1="405.4" x2="611.7" y2="407.0" stroke="#666666" stroke-width="0.7"/>
<text x="611.7" y="411.5" font-size="4.6" text-anchor="middle" fill="#2a2a2a" class="dd">1200</text>
<line x1="629.05" y1="405.4" x2="629.05" y2="407.0" stroke="#666666" stroke-width="0.7"/>
<text x="629.05" y="411.5" font-size="4.6" text-anchor="middle" fill="#2a2a2a" class="dd">1300</text>
<line x1="646.4" y1="405.4" x2="646.4" y2="407.0" stroke="#666666" stroke-width="0.7"/>
<text x="646.4" y="411.5" font-size="4.6" text-anchor="middle" fill="#2a2a2a" class="dd">1400</text>
<line x1="663.75" y1="405.4" x2="663.75" y2="407.0" stroke="#666666" stroke-width="0.7"/>
<text x="663.75" y="411.5" font-size="4.6" text-anchor="middle" fill="#2a2a2a" class="dd">1500</text>
<line x1="535.9" y1="390.9" x2="537.5" y2="390.9" stroke="#666666" stroke-width="0.7"/>
<text x="534.9" y="392.55" font-size="4.6" text-anchor="end" fill="#2a2a2a" class="dd">0.12</text>
<line x1="535.9" y1="374.8" x2="537.5" y2="374.8" stroke="#666666" stroke-width="0.7"/>
<text x="534.9" y="376.45" font-size="4.6" text-anchor="end" fill="#2a2a2a" class="dd">0.13</text>
<line x1="535.9" y1="358.7" x2="537.5" y2="358.7" stroke="#666666" stroke-width="0.7"/>
<text x="534.9" y="360.35" font-size="4.6" text-anchor="end" fill="#2a2a2a" class="dd">0.14</text>
<line x1="535.9" y1="342.6" x2="537.5" y2="342.6" stroke="#666666" stroke-width="0.7"/>
<text x="534.9" y="344.25" font-size="4.6" text-anchor="end" fill="#2a2a2a" class="dd">0.15</text>
<line x1="535.9" y1="326.5" x2="537.5" y2="326.5" stroke="#666666" stroke-width="0.7"/>
<text x="534.9" y="328.15" font-size="4.6" text-anchor="end" fill="#2a2a2a" class="dd">0.16</text>
<line x1="535.9" y1="310.4" x2="537.5" y2="310.4" stroke="#666666" stroke-width="0.7"/>
<text x="534.9" y="312.05" font-size="4.6" text-anchor="end" fill="#2a2a2a" class="dd">0.17</text>
<line x1="535.9" y1="294.3" x2="537.5" y2="294.3" stroke="#666666" stroke-width="0.7"/>
<text x="534.9" y="295.95" font-size="4.6" text-anchor="end" fill="#2a2a2a" class="dd">0.18</text>
<line x1="535.9" y1="278.2" x2="537.5" y2="278.2" stroke="#666666" stroke-width="0.7"/>
<text x="534.9" y="279.85" font-size="4.6" text-anchor="end" fill="#2a2a2a" class="dd">0.19</text>
<text x="608.45" y="417" font-size="4.6" text-anchor="middle" fill="#2a2a2a" class="dd">Monthly number of FIT tests</text>
<text class="dd" x="523.9" y="338.8" font-size="4.6" text-anchor="middle" fill="#2a2a2a" transform="rotate(-90 523.9 338.8)">Monthly proportion with FIT ≥ 10 μg/g</text>
<text x="608.45" y="269.8" font-size="5.3" text-anchor="middle" fill="#2a2a2a">2021 Sep - 2024 Feb</text>
<line x1="575.9" y1="277.3" x2="584.5" y2="277.3" stroke="#ff5050" stroke-width="1.0"/>
<text class="dd" x="587.5" y="278.9" font-size="4.5" fill="#2a2a2a">Linear Regression (R² = 0.29, <tspan font-style="italic">p</tspan><tspan font-size="3.2" dy="0.8">slope</tspan><tspan dy="-0.8"> = 0.002)</tspan></text>
</svg>
</body></html>
